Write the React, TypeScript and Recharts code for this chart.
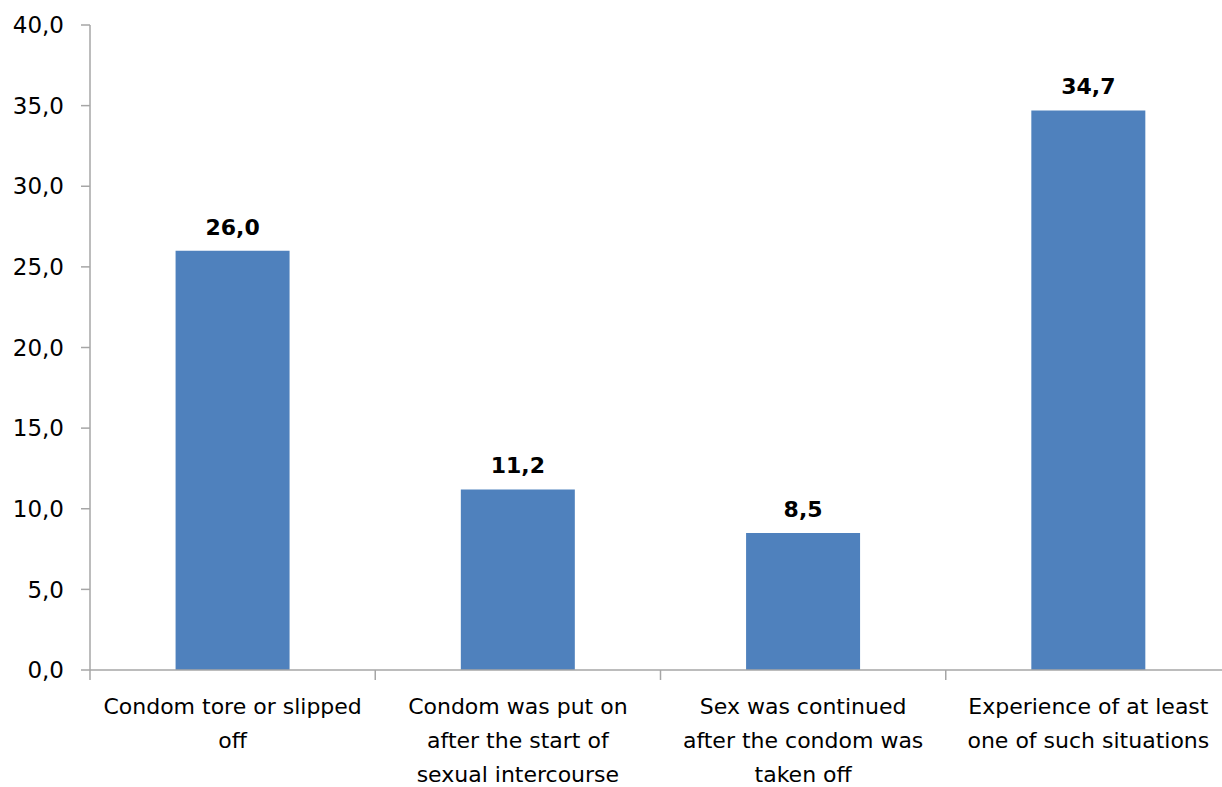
import { BarChart, Bar, XAxis, YAxis, LabelList } from 'recharts'

const categories = [
    'Condom tore or slipped off',
    'Condom was put on after the start of sexual intercourse',
    'Sex was continued after the condom was taken off',
    'Experience of at least one of such situations',
]
// how each category label wraps under the axis
const categoryLines = [
    ['Condom tore or slipped', 'off'],
    ['Condom was put on', 'after the start of', 'sexual intercourse'],
    ['Sex was continued', 'after the condom was', 'taken off'],
    ['Experience of at least', 'one of such situations'],
]
const shares = [26.0, 11.2, 8.5, 34.7]
const yTicks = [0, 5, 10, 15, 20, 25, 30, 35, 40]

const data = categories.map((name, i) => ({ name, value: shares[i], lines: categoryLines[i] }))

const fmt = (v) => Number(v).toFixed(1).replace('.', ',')

const AXIS = '#A6A6A6'

function CategoryTick(props) {
    const { x, y, payload, index, visibleTicksCount, width } = props
    const band = payload && payload.offset ? payload.offset * 2 : width / visibleTicksCount
    const left = x - band / 2
    const lines = categoryLines[index] || [String(payload.value)]
    return (
        <g>
            <line x1={left} x2={left} y1={y} y2={y + 10} stroke={AXIS} strokeWidth={1.5} />
            {index === visibleTicksCount - 1 && (
                <line x1={left + band} x2={left + band} y1={y} y2={y + 10} stroke={AXIS} strokeWidth={1.5} />
            )}
            <text x={x} y={y + 44} textAnchor='middle' fill='#000' fontSize={22} fontFamily='DejaVu Sans'>
                {lines.map((l, i) => (
                    <tspan key={i} x={x} dy={i === 0 ? 0 : 34}>{l}</tspan>
                ))}
            </text>
        </g>
    )
}

export default function App() {
    return (
        <div style={{ position: 'fixed', left: 0, top: 0, width: 1222, height: 787, overflow: 'hidden', background: '#fff' }}>
            <BarChart width={1240} height={787} data={data}
                margin={{ top: 25, right: 9, left: 0, bottom: 0 }}
                barCategoryGap='30%'>
                <XAxis dataKey='name' height={117} stroke={AXIS} strokeWidth={1.5}
                    tickLine={false} tickSize={0} tickMargin={0} interval={0}
                    tick={<CategoryTick />} />
                <YAxis width={90} domain={[0, 40]} ticks={yTicks} tickFormatter={fmt}
                    stroke={AXIS} strokeWidth={1.5} tickSize={9} tickMargin={17}
                    tick={{ fill: '#000', fontSize: 23, fontFamily: 'DejaVu Sans' }} />
                <Bar dataKey='value' fill='#4F81BD' isAnimationActive={false}>
                    <LabelList dataKey='value' position='top' offset={16} formatter={fmt}
                        style={{ fill: '#000', fontSize: 22, fontWeight: 'bold', fontFamily: 'DejaVu Sans' }} />
                </Bar>
            </BarChart>
        </div>
    )
}
